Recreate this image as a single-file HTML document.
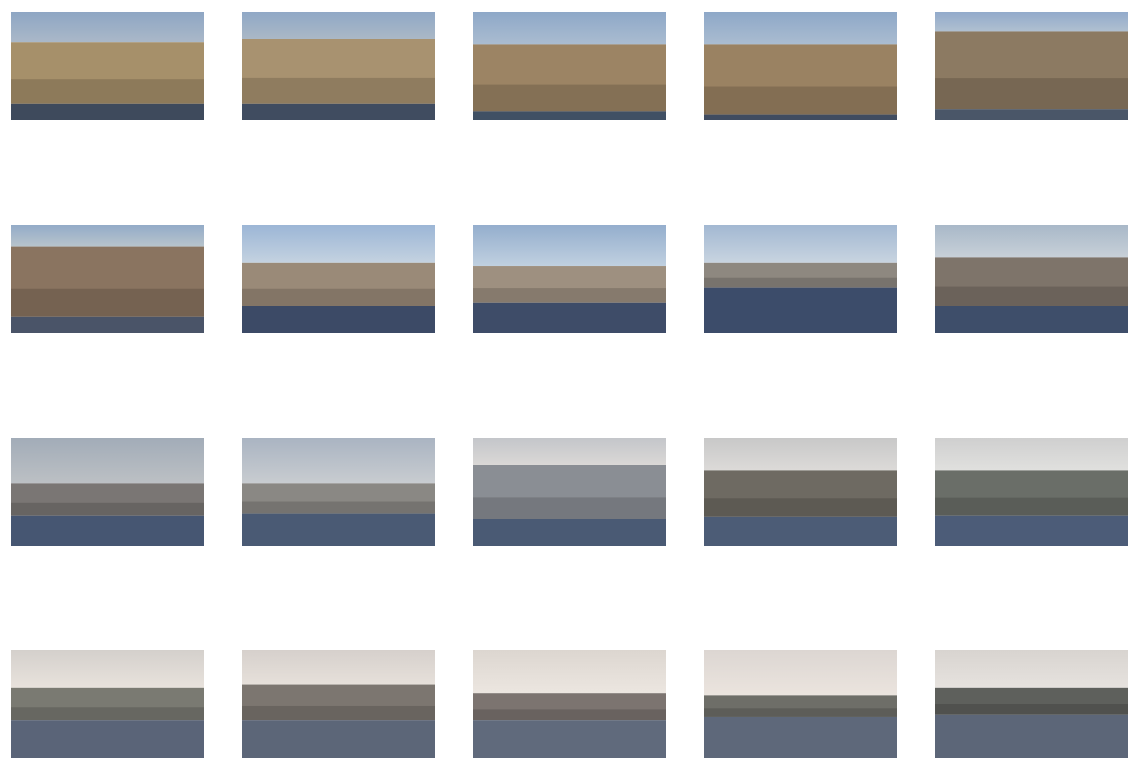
<!DOCTYPE html>
<html><head><meta charset="utf-8"><style>
html,body{margin:0;padding:0;background:#fff;width:1145px;height:770px;overflow:hidden}
svg{display:block}
</style></head><body>
<svg id="grid" width="1145" height="770" xmlns="http://www.w3.org/2000/svg"></svg>
<script>
// per-tile: sky top, sky bottom, horizon fraction, city color, water start fraction, water color
const skyTop=["#8ea6c4","#90a8c6","#8ea8c8","#8ea8c8","#92aacb","#93abc8","#9cb6d6","#94aecd","#a2b8d2","#a8b8c8","#a2acb8","#aab4c2","#c4c6ca","#c8c8c8","#cfcfcf","#d4d0cc","#d6d0cc","#dcd6d0","#dcd6d2","#d8d4d0"];
const skyBot=["#aab8c8","#aab8c6","#aabcd0","#aabcd0","#b0c0d0","#b8c4cc","#c4d2e0","#c0d0e0","#c8d4e0","#c8d0d8","#bcc0c4","#c8ccd0","#dad8d6","#dcdad8","#e0e0de","#e8e2dc","#e6e0da","#ece6e0","#ebe4de","#e6e2de"];
const horizon=[0.28,0.25,0.30,0.30,0.18,0.2,0.35,0.38,0.35,0.3,0.42,0.42,0.25,0.3,0.3,0.35,0.32,0.4,0.42,0.35];
const cityCol=["#a6906a","#a89270","#9c8464","#9a8262","#8c7a62","#8a7460","#9a8a78","#9e9080","#8e8880","#7e746a","#7a7674","#8a8884","#8a8e94","#6e6a62","#6a6e68","#7a7a72","#7c7670","#7c7470","#6e6e68","#5e605c"];
const waterStart=[0.85,0.85,0.92,0.95,0.9,0.85,0.75,0.72,0.58,0.75,0.72,0.7,0.75,0.73,0.72,0.65,0.65,0.65,0.62,0.6];
const waterCol=["#3e4a5c","#404c60","#405064","#404c60","#4a5668","#4a5468","#3c4a66","#3e4c68","#3c4c6a","#3e4e6a","#465672","#4a5a74","#4a5a74","#4c5c76","#4c5c78","#5a6478","#5c6678","#606a7c","#5e687a","#5c6678"];
const colX=[11,242,473,704,935],rowY=[12,225,438,650],W=193,H=108;
const svg=document.getElementById('grid');
const NS='http://www.w3.org/2000/svg';
let defs=document.createElementNS(NS,'defs');svg.appendChild(defs);
for(let i=0;i<20;i++){
  const x=colX[i%5],y=rowY[Math.floor(i/5)];
  const g=document.createElementNS(NS,'g');
  
  
  const lg=document.createElementNS(NS,'linearGradient');
  lg.setAttribute('id','s'+i);lg.setAttribute('x1','0');lg.setAttribute('y1','0');lg.setAttribute('x2','0');lg.setAttribute('y2','1');
  lg.innerHTML='<stop offset="0" stop-color="'+skyTop[i]+'"/><stop offset="1" stop-color="'+skyBot[i]+'"/>';
  defs.appendChild(lg);
  const hy=y+H*horizon[i],wy=y+H*waterStart[i];
  g.innerHTML='<rect x="'+x+'" y="'+y+'" width="'+W+'" height="'+(hy-y)+'" fill="url(#s'+i+')"/>'+
   '<rect x="'+x+'" y="'+hy+'" width="'+W+'" height="'+(wy-hy)+'" fill="'+cityCol[i]+'"/>'+
   '<rect x="'+x+'" y="'+(hy+(wy-hy)*0.6)+'" width="'+W+'" height="'+((wy-hy)*0.4)+'" fill="#000" opacity="0.15"/>'+
   '<rect x="'+x+'" y="'+wy+'" width="'+W+'" height="'+(y+H-wy)+'" fill="'+waterCol[i]+'"/>';
  svg.appendChild(g);
}
</script>
</body></html>
